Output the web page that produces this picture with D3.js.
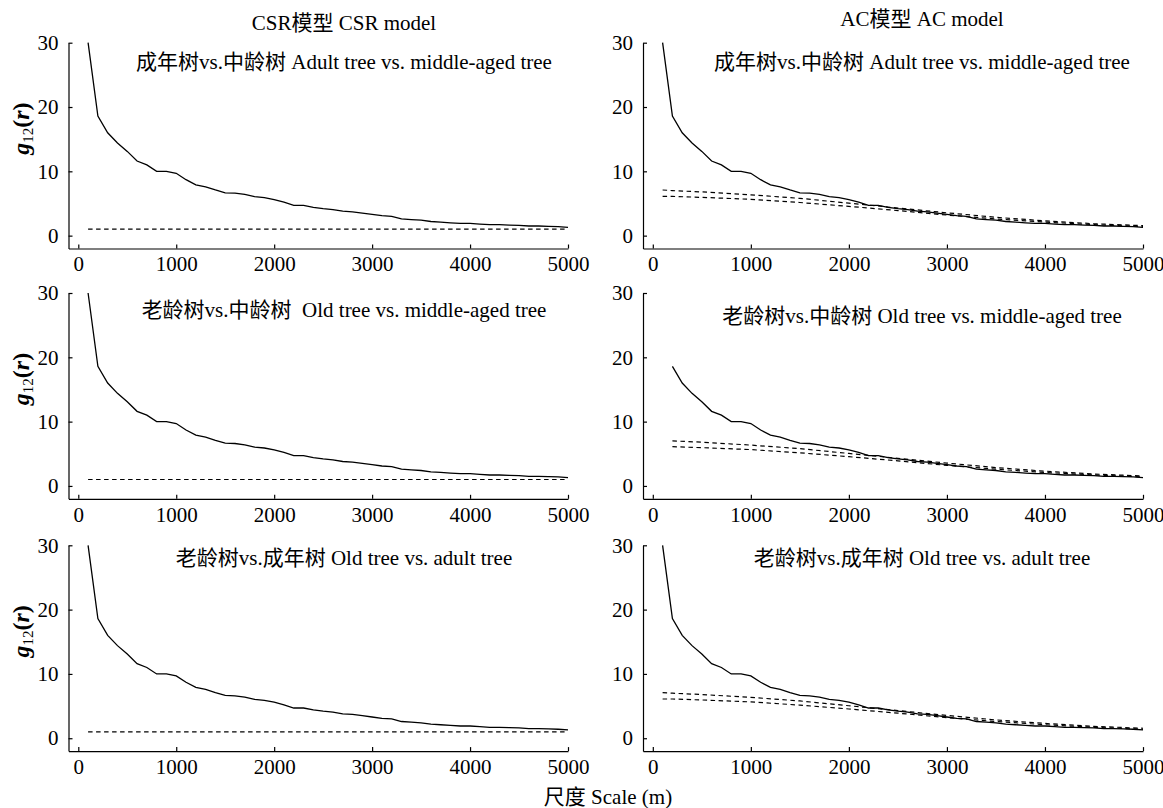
<!DOCTYPE html>
<html lang="zh">
<head>
<meta charset="UTF-8">
<title>g12(r) CSR / AC model</title>
<script src="https://d3js.org/d3.v7.min.js"></script>
<style>
  body { margin: 0; background: #fff; }
  svg text { font-family: "Liberation Serif", "Times New Roman", "Noto Sans CJK SC", serif; fill: #000; }
  .axis path, .axis line { stroke: #000; stroke-width: 1.2; }
  .axis text { font-size: 21px; }
  .title { font-size: 21px; white-space: pre; }
</style>
</head>
<body>
<svg id="chart" width="1163" height="808"></svg>
<script>
// distances (m)
const distances = [100, 200, 300, 400, 500, 600, 700, 800, 900, 1000,
  1100, 1200, 1300, 1400, 1500, 1600, 1700, 1800, 1900, 2000,
  2100, 2200, 2300, 2400, 2500, 2600, 2700, 2800, 2900, 3000,
  3100, 3200, 3300, 3400, 3500, 3600, 3700, 3800, 3900, 4000,
  4100, 4200, 4300, 4400, 4500, 4600, 4700, 4800, 4900, 5000];

// observed g12(r)
const observed = [30, 18.6, 16.0, 14.4, 13.1, 11.6, 11.0, 10.0, 10.0, 9.7,
  8.7, 7.9, 7.6, 7.1, 6.65, 6.6, 6.4, 6.05, 5.9, 5.6,
  5.2, 4.7, 4.7, 4.4, 4.2, 4.05, 3.8, 3.7, 3.5, 3.3,
  3.1, 3.0, 2.6, 2.5, 2.4, 2.2, 2.1, 2.0, 1.9, 1.9,
  1.8, 1.7, 1.7, 1.65, 1.6, 1.5, 1.5, 1.45, 1.4, 1.3];

// CSR envelope (flat, ~1)
const csrDistances = [100, 5000];
const csrEnvelope = [1.0, 1.0];

// AC envelopes
const acDistances = [100, 200, 500, 1000, 1500, 2000, 2500, 3000, 3500, 4000, 4500, 5000];
const acUpper = [7.1, 7.0, 6.8, 6.35, 5.8, 5.05, 4.3, 3.55, 2.85, 2.3, 1.85, 1.55];
const acLower = [6.1, 6.1, 5.95, 5.65, 5.15, 4.55, 3.9, 3.2, 2.6, 2.1, 1.7, 1.4];

const columnTitles = ["CSR模型 CSR model", "AC模型 AC model"];
const csrPanelTitles = [
  "成年树vs.中龄树 Adult tree vs. middle-aged tree",
  "老龄树vs.中龄树  Old tree vs. middle-aged tree",
  "老龄树vs.成年树 Old tree vs. adult tree"
];
const acPanelTitles = [
  "成年树vs.中龄树 Adult tree vs. middle-aged tree",
  "老龄树vs.中龄树 Old tree vs. middle-aged tree",
  "老龄树vs.成年树 Old tree vs. adult tree"
];
// first distance plotted in each AC panel
const acStart = [100, 200, 100];

const xTicks = [0, 1000, 2000, 3000, 4000, 5000];
const yTicks = [0, 10, 20, 30];
const xLabel = "尺度 Scale (m)";

// layout
const svg = d3.select("#chart");
const colRange = [[68.5, 568], [643, 1143]];
const rowTop = [42.7, 293, 545.3];
const plotH = 205.8;
const titleX = [344, 922];
const panelTitleY = [[69, 317, 565], [69, 323, 565]];
const colTitleY = [30, 26];

const line = d3.line();

function drawPanel(col, row) {
  const x = d3.scaleLinear().domain([-100, 5000]).range(colRange[col]);
  const y = d3.scaleLinear().domain([-2, 30]).range([rowTop[row] + plotH, rowTop[row]]);
  const g = svg.append("g");

  g.append("g")
    .attr("class", "axis")
    .attr("transform", `translate(0,${y(-2)})`)
    .call(d3.axisBottom(x).tickValues(xTicks).tickFormat(d3.format("d"))
      .tickSizeInner(-4).tickSizeOuter(0).tickPadding(8));

  g.append("g")
    .attr("class", "axis")
    .attr("transform", `translate(${x(-100)},0)`)
    .call(d3.axisLeft(y).tickValues(yTicks).tickSizeInner(-4).tickSizeOuter(0).tickPadding(10));

  // observed curve
  const start = col === 0 ? 100 : acStart[row];
  const obs = distances.map((d, i) => [d, observed[i]]).filter(p => p[0] >= start);
  g.append("path")
    .attr("d", line(obs.map(p => [x(p[0]), y(p[1])])))
    .attr("fill", "none")
    .attr("stroke", "#000")
    .attr("stroke-width", 1.3);

  // envelopes
  let envs;
  if (col === 0) {
    envs = [csrDistances.map((d, i) => [d, csrEnvelope[i]])];
  } else {
    envs = [acUpper, acLower].map(arr =>
      acDistances.map((d, i) => [d, arr[i]]).filter(p => p[0] >= start));
  }
  envs.forEach(env => {
    g.append("path")
      .attr("d", line(env.map(p => [x(p[0]), y(p[1])])))
      .attr("fill", "none")
      .attr("stroke", "#000")
      .attr("stroke-width", 1.2)
      .attr("stroke-dasharray", "4.5,3.5");
  });

  const titles = col === 0 ? csrPanelTitles : acPanelTitles;
  g.append("text")
    .attr("class", "title")
    .attr("x", titleX[col])
    .attr("y", panelTitleY[col][row])
    .attr("text-anchor", "middle")
    .text(titles[row]);

  // y label only on left column
  if (col === 0) {
    const lab = g.append("text")
      .attr("transform", `translate(29,${rowTop[row] + 86}) rotate(-90)`)
      .attr("text-anchor", "middle")
      .attr("font-size", 24)
      .attr("font-weight", "bold");
    lab.append("tspan").attr("font-style", "italic").text("g");
    lab.append("tspan").attr("font-size", 15).attr("font-weight", "normal").attr("dy", 4).text("12");
    lab.append("tspan").attr("dy", -4).text("(");
    lab.append("tspan").attr("font-style", "italic").text("r");
    lab.append("tspan").text(")");
  }
}

[0, 1].forEach(col => [0, 1, 2].forEach(row => drawPanel(col, row)));

columnTitles.forEach((t, i) => {
  svg.append("text")
    .attr("class", "title")
    .attr("x", titleX[i])
    .attr("y", colTitleY[i])
    .attr("text-anchor", "middle")
    .text(t);
});

svg.append("text")
  .attr("class", "title")
  .attr("x", 608)
  .attr("y", 804)
  .attr("text-anchor", "middle")
  .text(xLabel);
</script>
</body>
</html>
